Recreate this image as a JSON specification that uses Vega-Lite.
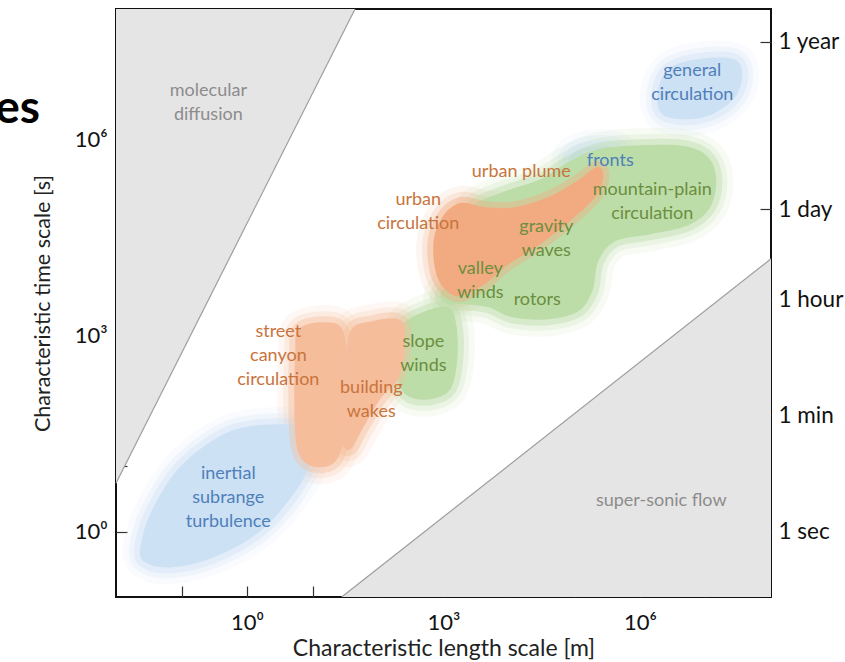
{
  "$schema": "https://vega.github.io/schema/vega-lite/v6.json",
  "width": 655,
  "height": 588,
  "autosize": {"type": "none"},
  "padding": {"left": 116, "top": 9, "right": 74, "bottom": 65},
  "background": "white",
  "config": {
    "view": {"stroke": "#111111", "strokeWidth": 2},
    "font": "Lato",
    "axis": {"grid": false, "domain": false, "labelFont": "Lato", "titleFont": "Lato", "labelColor": "#111", "titleColor": "#222", "titleFontWeight": "normal", "tickColor": "#333", "tickWidth": 1.2}
  },
  "datasets": {
    "regions": [
      {"region": "molecular diffusion", "x": 0.01, "y": 5.5, "bound": 100000000},
      {"region": "molecular diffusion", "x": 44.6, "y": 100000000, "bound": 100000000},
      {"region": "super-sonic flow", "x": 27.9, "y": 0.1, "bound": 0.1},
      {"region": "super-sonic flow", "x": 100000000, "y": 15000, "bound": 0.1}
    ],
    "blobs": [
      {"blob": "inertial", "group": "blue", "i": 0, "x": 0.0235, "y": 0.575},
      {"blob": "inertial", "group": "blue", "i": 1, "x": 0.0358, "y": 2.19},
      {"blob": "inertial", "group": "blue", "i": 2, "x": 0.103, "y": 10.7},
      {"blob": "inertial", "group": "blue", "i": 3, "x": 0.556, "y": 34.4},
      {"blob": "inertial", "group": "blue", "i": 4, "x": 3.22, "y": 44.0},
      {"blob": "inertial", "group": "blue", "i": 5, "x": 7.76, "y": 36.9},
      {"blob": "inertial", "group": "blue", "i": 6, "x": 9.93, "y": 17.0},
      {"blob": "inertial", "group": "blue", "i": 7, "x": 6.51, "y": 5.3},
      {"blob": "inertial", "group": "blue", "i": 8, "x": 1.71, "y": 1.08},
      {"blob": "inertial", "group": "blue", "i": 9, "x": 0.306, "y": 0.404},
      {"blob": "inertial", "group": "blue", "i": 10, "x": 0.0675, "y": 0.284},
      {"blob": "inertial", "group": "blue", "i": 11, "x": 0.028, "y": 0.339},
      {"blob": "general", "group": "blue", "i": 0, "x": 1840000, "y": 4980000},
      {"blob": "general", "group": "blue", "i": 1, "x": 2700000, "y": 12000000},
      {"blob": "general", "group": "blue", "i": 2, "x": 7760000, "y": 17100000},
      {"blob": "general", "group": "blue", "i": 3, "x": 26600000, "y": 17100000},
      {"blob": "general", "group": "blue", "i": 4, "x": 36500000, "y": 10100000},
      {"blob": "general", "group": "blue", "i": 5, "x": 28500000, "y": 4480000},
      {"blob": "general", "group": "blue", "i": 6, "x": 12700000, "y": 2460000},
      {"blob": "general", "group": "blue", "i": 7, "x": 4920000, "y": 2060000},
      {"blob": "general", "group": "blue", "i": 8, "x": 2190000, "y": 2460000},
      {"blob": "fronts", "group": "blue", "i": 0, "x": 80400, "y": 503000},
      {"blob": "fronts", "group": "blue", "i": 1, "x": 123000, "y": 715000},
      {"blob": "fronts", "group": "blue", "i": 2, "x": 295000, "y": 795000},
      {"blob": "fronts", "group": "blue", "i": 3, "x": 467000, "y": 667000},
      {"blob": "fronts", "group": "blue", "i": 4, "x": 248000, "y": 422000},
      {"blob": "fronts", "group": "blue", "i": 5, "x": 103000, "y": 353000},
      {"blob": "slope", "group": "green", "i": 0, "x": 235, "y": 1496},
      {"blob": "slope", "group": "green", "i": 1, "x": 527, "y": 2364},
      {"blob": "slope", "group": "green", "i": 2, "x": 1183, "y": 2723},
      {"blob": "slope", "group": "green", "i": 3, "x": 1567, "y": 1496},
      {"blob": "slope", "group": "green", "i": 4, "x": 1625, "y": 435},
      {"blob": "slope", "group": "green", "i": 5, "x": 1270, "y": 151},
      {"blob": "slope", "group": "green", "i": 6, "x": 629, "y": 106},
      {"blob": "slope", "group": "green", "i": 7, "x": 290, "y": 118},
      {"blob": "slope", "group": "green", "i": 8, "x": 204, "y": 215},
      {"blob": "slope", "group": "green", "i": 9, "x": 190, "y": 738},
      {"blob": "mesoscale", "group": "green", "i": 0, "x": 3060, "y": 103000},
      {"blob": "mesoscale", "group": "green", "i": 1, "x": 8790, "y": 163000},
      {"blob": "mesoscale", "group": "green", "i": 2, "x": 30060, "y": 248000},
      {"blob": "mesoscale", "group": "green", "i": 3, "x": 80400, "y": 452000},
      {"blob": "mesoscale", "group": "green", "i": 4, "x": 231000, "y": 715000},
      {"blob": "mesoscale", "group": "green", "i": 5, "x": 1010000, "y": 824000},
      {"blob": "mesoscale", "group": "green", "i": 6, "x": 4920000, "y": 795000},
      {"blob": "mesoscale", "group": "green", "i": 7, "x": 11000000, "y": 540000},
      {"blob": "mesoscale", "group": "green", "i": 8, "x": 14600000, "y": 248000},
      {"blob": "mesoscale", "group": "green", "i": 9, "x": 11800000, "y": 92500},
      {"blob": "mesoscale", "group": "green", "i": 10, "x": 5460000, "y": 49000},
      {"blob": "mesoscale", "group": "green", "i": 11, "x": 1440000, "y": 35700},
      {"blob": "mesoscale", "group": "green", "i": 12, "x": 420000, "y": 27900},
      {"blob": "mesoscale", "group": "green", "i": 13, "x": 231000, "y": 13800},
      {"blob": "mesoscale", "group": "green", "i": 14, "x": 187000, "y": 4790},
      {"blob": "mesoscale", "group": "green", "i": 15, "x": 114000, "y": 2364},
      {"blob": "mesoscale", "group": "green", "i": 16, "x": 39800, "y": 1783},
      {"blob": "mesoscale", "group": "green", "i": 17, "x": 11200, "y": 1914},
      {"blob": "mesoscale", "group": "green", "i": 18, "x": 4830, "y": 2723},
      {"blob": "mesoscale", "group": "green", "i": 19, "x": 1936, "y": 3027},
      {"blob": "mesoscale", "group": "green", "i": 20, "x": 1183, "y": 3027},
      {"blob": "mesoscale", "group": "green", "i": 21, "x": 894, "y": 4155},
      {"blob": "mesoscale", "group": "green", "i": 22, "x": 1362, "y": 7310},
      {"blob": "mesoscale", "group": "green", "i": 23, "x": 2566, "y": 17650},
      {"blob": "mesoscale", "group": "green", "i": 24, "x": 2390, "y": 50800},
      {"blob": "street", "group": "orange", "i": 0, "x": 6.07, "y": 1253},
      {"blob": "street", "group": "orange", "i": 1, "x": 14.1, "y": 1603},
      {"blob": "street", "group": "orange", "i": 2, "x": 28.5, "y": 1253},
      {"blob": "street", "group": "orange", "i": 3, "x": 34.0, "y": 306},
      {"blob": "street", "group": "orange", "i": 4, "x": 31.7, "y": 36.9},
      {"blob": "street", "group": "orange", "i": 5, "x": 22.3, "y": 11.9},
      {"blob": "street", "group": "orange", "i": 6, "x": 9.93, "y": 10},
      {"blob": "street", "group": "orange", "i": 7, "x": 5.86, "y": 18.2},
      {"blob": "street", "group": "orange", "i": 8, "x": 5.27, "y": 106},
      {"blob": "street", "group": "orange", "i": 9, "x": 5.46, "y": 519},
      {"blob": "building", "group": "orange", "i": 0, "x": 37.8, "y": 1167},
      {"blob": "building", "group": "orange", "i": 1, "x": 81.8, "y": 1663},
      {"blob": "building", "group": "orange", "i": 2, "x": 204, "y": 1783},
      {"blob": "building", "group": "orange", "i": 3, "x": 261, "y": 1050},
      {"blob": "building", "group": "orange", "i": 4, "x": 219, "y": 256},
      {"blob": "building", "group": "orange", "i": 5, "x": 108, "y": 106},
      {"blob": "building", "group": "orange", "i": 6, "x": 57.5, "y": 36.9},
      {"blob": "building", "group": "orange", "i": 7, "x": 37.8, "y": 18.2},
      {"blob": "building", "group": "orange", "i": 8, "x": 28.5, "y": 25.9},
      {"blob": "building", "group": "orange", "i": 9, "x": 31.7, "y": 215},
      {"blob": "urban", "group": "orange2", "i": 0, "x": 959, "y": 65000},
      {"blob": "urban", "group": "orange2", "i": 1, "x": 1804, "y": 107000},
      {"blob": "urban", "group": "orange2", "i": 2, "x": 4350, "y": 92500},
      {"blob": "urban", "group": "orange2", "i": 3, "x": 12500, "y": 92500},
      {"blob": "urban", "group": "orange2", "i": 4, "x": 39800, "y": 132000},
      {"blob": "urban", "group": "orange2", "i": 5, "x": 114000, "y": 240000},
      {"blob": "urban", "group": "orange2", "i": 6, "x": 215000, "y": 379000},
      {"blob": "urban", "group": "orange2", "i": 7, "x": 275000, "y": 296000},
      {"blob": "urban", "group": "orange2", "i": 8, "x": 223000, "y": 146000},
      {"blob": "urban", "group": "orange2", "i": 9, "x": 95900, "y": 62800},
      {"blob": "urban", "group": "orange2", "i": 10, "x": 30060, "y": 25100},
      {"blob": "urban", "group": "orange2", "i": 11, "x": 9420, "y": 12000},
      {"blob": "urban", "group": "orange2", "i": 12, "x": 4200, "y": 6120},
      {"blob": "urban", "group": "orange2", "i": 13, "x": 1625, "y": 4010},
      {"blob": "urban", "group": "orange2", "i": 14, "x": 833, "y": 7310},
      {"blob": "urban", "group": "orange2", "i": 15, "x": 699, "y": 25100}
    ],
    "labels": [
      {"text": "molecular\ndiffusion", "group": "gray", "x": 0.257, "y": 5530000},
      {"text": "super-sonic flow", "group": "gray", "x": 2110000, "y": 2.91},
      {"text": "general\ncirculation", "group": "blue", "x": 6290000, "y": 11200000},
      {"text": "fronts", "group": "blue", "x": 352000, "y": 469000},
      {"text": "urban plume", "group": "orange", "x": 15400, "y": 318000},
      {"text": "mountain-plain\ncirculation", "group": "green", "x": 1540000, "y": 169000},
      {"text": "urban\ncirculation", "group": "orange", "x": 412, "y": 118000},
      {"text": "gravity\nwaves", "group": "green", "x": 37100, "y": 45700},
      {"text": "valley\nwinds", "group": "green", "x": 3650, "y": 10400},
      {"text": "rotors", "group": "green", "x": 27000, "y": 3480},
      {"text": "slope\nwinds", "group": "green", "x": 492, "y": 793},
      {"text": "street\ncanyon\ncirculation", "group": "orange", "x": 3.01, "y": 1127},
      {"text": "building\nwakes", "group": "orange", "x": 79.0, "y": 156},
      {"text": "inertial\nsubrange\nturbulence", "group": "blue", "x": 0.518, "y": 7.54}
    ],
    "heading": [
      {"text": "es", "x": 0.00069, "y": 1820000}
    ],
    "timeticks": [
      {"y": 1}, {"y": 60}, {"y": 3600}, {"y": 86400}, {"y": 31536000}
    ]
  },
  "layer": [
    {
      "encoding": {
        "x": {
          "field": "x", "type": "quantitative",
          "scale": {"type": "log", "domain": [0.01, 100000000], "nice": false},
          "axis": {
            "orient": "bottom",
            "values": [0.1, 1, 10, 100, 1000, 10000, 100000, 1000000, 10000000],
            "labelExpr": "datum.value == 1 ? '10⁰' : datum.value == 1000 ? '10³' : datum.value == 1000000 ? '10⁶' : ''",
            "tickSize": -11, "labelPadding": 26, "labelFontSize": 22,
            "title": "Characteristic length scale [m]", "titleFontSize": 23, "titlePadding": 4
          }
        },
        "y": {
          "field": "y", "type": "quantitative",
          "scale": {"type": "log", "domain": [0.1, 100000000], "nice": false},
          "axis": {
            "orient": "left",
            "values": [1, 10, 100, 1000, 10000, 100000, 1000000, 10000000],
            "labelExpr": "datum.value == 1 ? '10⁰' : datum.value == 1000 ? '10³' : datum.value == 1000000 ? '10⁶' : ''",
            "tickSize": -11, "labelPadding": 20, "labelFontSize": 22,
            "title": "Characteristic time scale [s]", "titleFontSize": 21.5, "titlePadding": 20
          }
        }
      },
      "layer": [
        {
          "data": {"name": "regions"},
          "mark": {"type": "area", "color": "#e6e5e6", "opacity": 1},
          "encoding": {"y2": {"field": "bound"}, "detail": {"field": "region"}}
        },
        {
          "data": {"name": "regions"},
          "mark": {"type": "line", "color": "#9d9d9d", "strokeWidth": 1.2},
          "encoding": {"detail": {"field": "region"}}
        },
        {
          "data": {"name": "blobs"},
          "mark": {"type": "line", "interpolate": "cardinal-closed", "strokeWidth": 34, "strokeOpacity": 0.12, "strokeJoin": "round", "fill": null},
          "encoding": {
            "detail": {"field": "blob"}, "order": {"field": "i"},
            "stroke": {"field": "group", "type": "nominal", "legend": null, "scale": {"domain": ["blue", "green", "orange", "orange2"], "range": ["#cde1f4", "#bcdda8", "#f6bd9b", "#f2ab80"]}}
          }
        },
        {
          "data": {"name": "blobs"},
          "mark": {"type": "line", "interpolate": "cardinal-closed", "strokeWidth": 22, "strokeOpacity": 0.2, "strokeJoin": "round", "fill": null},
          "encoding": {
            "detail": {"field": "blob"}, "order": {"field": "i"},
            "stroke": {"field": "group", "type": "nominal", "legend": null, "scale": {"domain": ["blue", "green", "orange", "orange2"], "range": ["#cde1f4", "#bcdda8", "#f6bd9b", "#f2ab80"]}}
          }
        },
        {
          "data": {"name": "blobs"},
          "transform": [{"filter": "datum.group == 'blue'"}],
          "mark": {"type": "line", "interpolate": "cardinal-closed", "stroke": "#cde1f4", "strokeWidth": 12, "strokeOpacity": 0.4, "strokeJoin": "round", "fill": "#cde1f4"},
          "encoding": {"detail": {"field": "blob"}, "order": {"field": "i"}}
        },
        {
          "data": {"name": "blobs"},
          "transform": [{"filter": "datum.group == 'green'"}],
          "mark": {"type": "line", "interpolate": "cardinal-closed", "stroke": "#bcdda8", "strokeWidth": 12, "strokeOpacity": 0.4, "strokeJoin": "round", "fill": "#bcdda8"},
          "encoding": {"detail": {"field": "blob"}, "order": {"field": "i"}}
        },
        {
          "data": {"name": "blobs"},
          "transform": [{"filter": "datum.group == 'orange'"}],
          "mark": {"type": "line", "interpolate": "cardinal-closed", "stroke": "#f6bd9b", "strokeWidth": 12, "strokeOpacity": 0.4, "strokeJoin": "round", "fill": "#f6bd9b"},
          "encoding": {"detail": {"field": "blob"}, "order": {"field": "i"}}
        },
        {
          "data": {"name": "blobs"},
          "transform": [{"filter": "datum.group == 'orange2'"}],
          "mark": {"type": "line", "interpolate": "cardinal-closed", "stroke": "#f2ab80", "strokeWidth": 12, "strokeOpacity": 0.4, "strokeJoin": "round", "fill": "#f2ab80"},
          "encoding": {"detail": {"field": "blob"}, "order": {"field": "i"}}
        },
        {
          "data": {"name": "labels"},
          "mark": {"type": "text", "font": "Lato", "fontSize": 18, "lineBreak": "\n", "lineHeight": 24, "align": "center", "baseline": "middle"},
          "encoding": {
            "text": {"field": "text"},
            "color": {"field": "group", "type": "nominal", "legend": null,
              "scale": {"domain": ["gray", "blue", "orange", "green"], "range": ["#8c8c8c", "#4f7fba", "#c8743c", "#6b8e3f"]}}
          }
        },
        {
          "data": {"name": "heading"},
          "mark": {"type": "text", "font": "Lato", "fontSize": 46, "fontWeight": "bold", "align": "right", "baseline": "alphabetic", "color": "#000"},
          "encoding": {"text": {"field": "text"}}
        }
      ]
    },
    {
      "data": {"name": "timeticks"},
      "mark": {"type": "point", "opacity": 0},
      "encoding": {
        "y": {
          "field": "y", "type": "quantitative",
          "scale": {"type": "log", "domain": [0.1, 100000000], "nice": false},
          "axis": {
            "orient": "right",
            "values": [1, 60, 3600, 86400, 31536000],
            "labelExpr": "datum.value == 1 ? '1 sec' : datum.value == 60 ? '1 min' : datum.value == 3600 ? '1 hour' : datum.value == 86400 ? '1 day' : '1 year'",
            "tickSize": -11, "labelPadding": 18, "labelFontSize": 22.5, "title": null
          }
        }
      }
    }
  ],
  "resolve": {"scale": {"y": "independent"}}
}
